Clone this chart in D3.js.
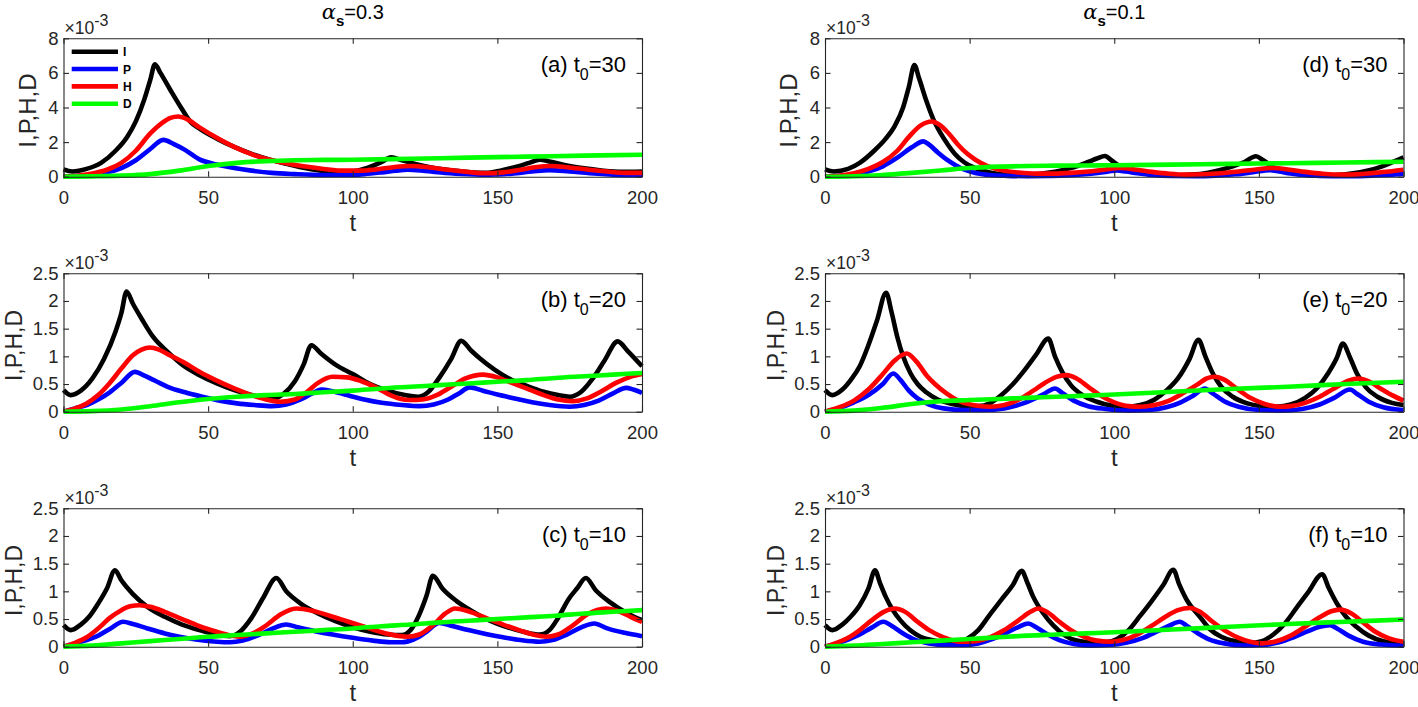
<!DOCTYPE html>
<html><head><meta charset="utf-8">
<script src="https://cdn.jsdelivr.net/npm/d3@7"></script>
<style>
body{margin:0;background:#fff}
text{font-family:"Liberation Sans",Arial,Helvetica,sans-serif}
</style>
</head><body>
<svg id="chart" width="1418" height="707"></svg>
<script>
// ---------------- data ----------------
const xTicks = [0, 50, 100, 150, 200];
const xTickLabels = ["0", "50", "100", "150", "200"];
const yTicksTop = [0, 2, 4, 6, 8];
const yTickLabelsTop = ["0", "2", "4", "6", "8"];
const yTicksLow = [0, 0.5, 1, 1.5, 2, 2.5];
const yTickLabelsLow = ["0", "0.5", "1", "1.5", "2", "2.5"];
const seriesNames = ["I", "P", "H", "D"];
const panelLetters = ["a", "b", "c", "d", "e", "f"];
const t0Values = ["30", "20", "10", "30", "20", "10"];
const alphaValues = ["0.3", "0.1"];
const exponentLabel = "-3";

// values in units of 1e-3, as [t, value]
const I_a = [[0,0.42],[3,0.3],[8,0.45],[13,0.8],[18,1.5],[22,2.3],[25,3.2],[28,4.5],[30,5.6],[31.6,6.5],[33.5,6.0],[37,5.0],[41,3.9],[44,3.15],[47,2.78],[53,2.2],[59,1.72],[65,1.32],[71,1.0],[77,0.75],[83,0.52],[89,0.35],[95,0.25],[100,0.3],[105,0.5],[110,0.85],[113.3,1.12],[117,0.95],[122,0.72],[128,0.5],[135,0.35],[141,0.25],[146,0.22],[151,0.35],[156,0.55],[161,0.8],[164.6,0.98],[168,0.88],[174,0.65],[180,0.48],[186,0.36],[193,0.28],[200,0.3]];
const P_a = [[0,0],[5,0.05],[10,0.12],[15,0.25],[20,0.5],[25,0.95],[30,1.6],[34.5,2.13],[38,1.9],[42,1.55],[47,1.0],[53,0.7],[59,0.5],[65,0.35],[72,0.22],[80,0.15],[90,0.1],[97,0.1],[104,0.15],[110,0.25],[115,0.35],[119,0.4],[125,0.33],[132,0.22],[140,0.15],[147,0.12],[155,0.18],[162,0.3],[168,0.38],[175,0.3],[182,0.2],[190,0.12],[200,0.08]];
const H_a = [[0,0],[5,0.06],[10,0.18],[15,0.4],[20,0.8],[25,1.5],[30,2.5],[34,3.1],[37,3.4],[39.6,3.48],[43,3.3],[47,2.85],[53,2.25],[59,1.72],[65,1.3],[71,1.0],[77,0.78],[83,0.6],[90,0.45],[97,0.35],[103,0.35],[108,0.42],[114,0.55],[120,0.62],[126,0.55],[133,0.4],[140,0.27],[146,0.2],[152,0.25],[158,0.4],[163,0.55],[168.5,0.62],[174,0.55],[181,0.42],[188,0.3],[195,0.22],[200,0.22]];
const D_a = [[0,0],[10,0.02],[20,0.06],[30,0.15],[40,0.35],[50,0.62],[60,0.8],[70,0.9],[80,0.95],[90,0.97],[100,0.98],[120,1.04],[140,1.1],[160,1.16],[180,1.22],[200,1.27]];

const I_b = [[0,0.39],[2.5,0.3],[6,0.38],[10,0.6],[14,0.95],[18,1.45],[20,1.78],[21.8,2.17],[24,1.95],[27,1.68],[31,1.35],[36,1.08],[41,0.85],[47,0.66],[53,0.51],[59,0.39],[65,0.3],[70,0.25],[73,0.24],[76,0.32],[80,0.55],[83,0.85],[85.7,1.2],[89,1.05],[94,0.85],[100,0.68],[106,0.5],[112,0.38],[118,0.3],[122.5,0.27],[126,0.35],[130,0.62],[134,0.95],[137.5,1.28],[141,1.1],[144,0.96],[149,0.76],[154,0.6],[160,0.47],[166,0.36],[171,0.3],[175,0.27],[179,0.36],[183,0.6],[187,0.92],[191.6,1.27],[195,1.1],[200,0.82]];
const P_b = [[0,0],[4,0.06],[8,0.12],[12,0.22],[16,0.35],[20,0.52],[24.7,0.72],[28,0.65],[32,0.55],[36,0.45],[42,0.35],[48,0.27],[54,0.2],[60,0.15],[66,0.12],[72,0.1],[77,0.13],[82,0.22],[86,0.33],[89,0.4],[93,0.37],[98,0.3],[104,0.22],[110,0.16],[117,0.12],[123,0.1],[128,0.13],[133,0.22],[137,0.34],[140.4,0.44],[145,0.38],[150,0.31],[156,0.24],[162,0.17],[168,0.12],[175,0.09],[180,0.12],[185,0.2],[190,0.33],[194.5,0.43],[197,0.4],[200,0.34]];
const H_b = [[0,0],[4,0.06],[8,0.15],[12,0.3],[16,0.52],[20,0.78],[24,1.02],[27,1.12],[29.9,1.16],[33,1.12],[36,1.04],[42,0.88],[47,0.72],[53,0.56],[59,0.42],[65,0.3],[70,0.22],[75,0.18],[80,0.22],[84,0.35],[88,0.52],[93,0.63],[98,0.62],[103,0.55],[108,0.44],[113,0.3],[116,0.24],[120,0.21],[124,0.22],[129,0.3],[134,0.45],[139,0.6],[145,0.67],[150,0.62],[155,0.52],[160,0.42],[166,0.3],[171,0.22],[176,0.19],[181,0.24],[186,0.37],[191,0.52],[196,0.63],[200,0.68]];
const D_b = [[0,0],[10,0.01],[20,0.04],[30,0.1],[40,0.17],[50,0.23],[60,0.27],[70,0.3],[80,0.32],[90,0.35],[100,0.38],[110,0.42],[120,0.45],[130,0.48],[140,0.51],[150,0.54],[160,0.57],[170,0.61],[180,0.64],[190,0.67],[200,0.7]];

const I_c = [[0,0.39],[2.5,0.3],[6,0.4],[9,0.55],[12,0.78],[15,1.05],[17.8,1.38],[20,1.2],[24,0.95],[29,0.72],[35,0.54],[41,0.4],[47,0.3],[52,0.23],[57.5,0.19],[61,0.27],[65,0.52],[69,0.88],[73.6,1.24],[77,1.0],[82,0.78],[88,0.6],[94,0.46],[100,0.35],[106,0.27],[112,0.22],[117,0.21],[120,0.3],[123,0.58],[125.5,0.92],[127.7,1.28],[131,1.05],[136,0.82],[141,0.65],[147,0.48],[153,0.36],[159,0.27],[164.6,0.22],[168,0.3],[171,0.52],[174.5,0.85],[177.5,1.05],[180.6,1.24],[184,1.02],[189,0.8],[195,0.6],[200,0.48]];
const P_c = [[0,0],[4,0.06],[8,0.12],[12,0.2],[16,0.32],[20.6,0.45],[24,0.41],[29,0.33],[35,0.24],[41,0.17],[47,0.12],[53,0.09],[57.5,0.08],[62,0.11],[67,0.2],[72,0.32],[77,0.4],[81,0.35],[87,0.28],[93,0.22],[100,0.16],[107,0.11],[113,0.08],[117,0.08],[121,0.13],[125,0.25],[130,0.43],[134,0.38],[140,0.3],[146,0.23],[152,0.17],[158,0.12],[164.6,0.09],[169,0.12],[174,0.22],[179,0.35],[183.5,0.42],[188,0.33],[194,0.25],[200,0.19]];
const H_c = [[0,0],[4,0.07],[8,0.17],[12,0.33],[16,0.52],[20,0.66],[23,0.73],[26.4,0.75],[30,0.72],[35,0.63],[41,0.5],[47,0.37],[53,0.27],[58,0.2],[61,0.18],[65,0.23],[70,0.38],[75,0.58],[80.5,0.69],[86,0.65],[92,0.56],[98,0.46],[104,0.36],[110,0.26],[115,0.2],[119,0.18],[123,0.22],[128,0.4],[132,0.6],[135.4,0.69],[140,0.64],[146,0.52],[152,0.4],[158,0.29],[163,0.21],[167,0.18],[171,0.22],[176,0.38],[181,0.58],[187.5,0.69],[192,0.64],[196,0.54],[200,0.45]];
const D_c = [[0,0],[10,0.02],[20,0.06],[30,0.1],[40,0.14],[50,0.18],[60,0.21],[70,0.24],[80,0.27],[90,0.3],[100,0.33],[110,0.37],[120,0.4],[130,0.44],[140,0.47],[150,0.5],[160,0.53],[170,0.56],[180,0.6],[190,0.63],[200,0.66]];

const I_d = [[0,0.42],[3,0.3],[8,0.45],[12,0.8],[17,1.5],[21,2.2],[24,2.9],[27,4.0],[29,5.2],[30.9,6.45],[32.5,5.7],[35,4.4],[37.5,3.3],[40,2.5],[42.5,1.85],[45,1.3],[48,0.85],[52,0.5],[57,0.25],[62,0.12],[67,0.08],[72,0.12],[77,0.22],[82,0.38],[87,0.6],[91,0.85],[94,1.05],[96.8,1.2],[99,0.95],[102,0.6],[106,0.33],[111,0.17],[117,0.1],[122,0.08],[127,0.12],[132,0.22],[137,0.4],[141,0.6],[145,0.85],[149,1.18],[151.5,0.95],[155,0.55],[159,0.3],[164,0.15],[170,0.08],[175,0.08],[180,0.14],[185,0.26],[190,0.45],[194,0.68],[197,0.9],[200,1.12]];
const P_d = [[0,0],[5,0.05],[10,0.14],[15,0.3],[20,0.6],[25,1.1],[30,1.7],[34,2.04],[36,1.85],[39,1.4],[42,1.0],[45,0.68],[48,0.42],[52,0.22],[57,0.1],[63,0.05],[70,0.03],[78,0.04],[85,0.08],[92,0.17],[98,0.3],[101,0.36],[104,0.3],[108,0.2],[113,0.1],[120,0.04],[128,0.03],[135,0.06],[142,0.14],[148,0.26],[153.8,0.38],[157,0.3],[161,0.18],[167,0.08],[175,0.03],[182,0.03],[190,0.07],[196,0.12],[200,0.16]];
const H_d = [[0,0],[5,0.06],[10,0.2],[15,0.45],[20,0.85],[25,1.5],[29,2.3],[33,2.95],[36.9,3.19],[40,2.95],[43,2.45],[46,1.85],[49,1.35],[52,0.98],[56,0.62],[61,0.38],[67,0.24],[73,0.18],[79,0.18],[85,0.22],[91,0.3],[97,0.42],[102,0.5],[107,0.42],[113,0.28],[119,0.17],[125,0.12],[131,0.14],[137,0.2],[143,0.3],[149,0.42],[155,0.5],[160,0.42],[166,0.28],[172,0.17],[179,0.12],[185,0.15],[190,0.22],[195,0.3],[200,0.4]];
const D_d = [[0,0],[10,0.03],[20,0.1],[30,0.22],[40,0.36],[50,0.5],[60,0.58],[70,0.62],[80,0.64],[90,0.65],[100,0.66],[120,0.7],[140,0.74],[160,0.78],[180,0.82],[200,0.86]];

const I_e = [[0,0.39],[2.5,0.3],[6,0.4],[9,0.58],[12,0.82],[15,1.2],[18,1.65],[21.1,2.15],[23,1.8],[25,1.35],[27,1.0],[29.5,0.7],[32,0.5],[35,0.35],[39,0.22],[44,0.14],[49,0.1],[53,0.1],[57,0.15],[61,0.3],[65,0.5],[69,0.75],[73,1.03],[77.2,1.32],[79.5,1.0],[82,0.72],[85,0.48],[89,0.3],[94,0.18],[99,0.11],[104,0.09],[109,0.12],[114,0.22],[118,0.38],[122,0.6],[126,0.95],[129.1,1.3],[131.5,1.0],[134,0.7],[137,0.45],[141,0.27],[146,0.15],[151,0.1],[156,0.09],[161,0.13],[166,0.25],[170,0.42],[174,0.7],[177,0.98],[179,1.23],[181.5,0.98],[184,0.68],[187,0.44],[191,0.27],[196,0.16],[200,0.12]];
const P_e = [[0,0],[5,0.07],[10,0.17],[15,0.3],[20,0.5],[23.6,0.69],[26,0.58],[29,0.38],[32,0.24],[36,0.13],[41,0.06],[48,0.03],[55,0.03],[62,0.06],[68,0.14],[73,0.25],[76,0.33],[79.5,0.42],[82,0.34],[86,0.2],[91,0.1],[97,0.05],[105,0.02],[112,0.03],[118,0.08],[123,0.17],[127,0.28],[131.4,0.42],[134,0.33],[138,0.19],[143,0.09],[150,0.03],[158,0.02],[165,0.05],[171,0.13],[176,0.25],[181.5,0.4],[184,0.32],[188,0.18],[193,0.08],[200,0.03]];
const H_e = [[0,0],[5,0.08],[10,0.2],[15,0.4],[20,0.68],[24,0.92],[28.2,1.05],[31.7,0.9],[35.2,0.65],[38,0.5],[42,0.33],[46,0.2],[51,0.12],[57,0.09],[62,0.12],[67,0.22],[72,0.38],[76,0.52],[80,0.63],[83.5,0.66],[87,0.6],[91,0.45],[95,0.3],[100,0.17],[105,0.1],[109,0.09],[114,0.12],[119,0.2],[124,0.34],[129,0.5],[132,0.6],[134.8,0.63],[138,0.58],[142,0.43],[147,0.25],[152,0.14],[157,0.09],[161,0.1],[166,0.16],[171,0.27],[176,0.42],[181,0.56],[184.4,0.6],[188,0.55],[192,0.42],[196,0.3],[200,0.2]];
const D_e = [[0,0],[10,0.02],[20,0.07],[30,0.14],[40,0.19],[50,0.21],[60,0.23],[70,0.25],[80,0.27],[90,0.29],[100,0.31],[120,0.36],[140,0.41],[160,0.45],[180,0.5],[200,0.54]];

const I_f = [[0,0.39],[2.5,0.3],[6,0.4],[9,0.55],[12,0.75],[15,1.05],[17.3,1.38],[19,1.15],[21,0.9],[23.5,0.66],[26,0.48],[29.4,0.3],[33,0.18],[37,0.12],[41,0.09],[45,0.09],[49,0.14],[53,0.3],[57,0.58],[61,0.85],[65,1.12],[68,1.37],[70,1.15],[72,0.9],[75.5,0.6],[79,0.38],[83,0.2],[87,0.11],[92,0.08],[97,0.08],[101,0.14],[105,0.3],[109,0.56],[113,0.83],[117,1.12],[120.4,1.39],[122.5,1.12],[125,0.85],[129.6,0.54],[133,0.32],[137,0.18],[142,0.1],[147,0.07],[151,0.1],[155,0.22],[159,0.42],[163,0.7],[167,0.98],[171.9,1.31],[174,1.08],[177,0.78],[180,0.55],[183.7,0.36],[188,0.2],[193,0.1],[200,0.06]];
const P_f = [[0,0],[4,0.06],[8,0.13],[12,0.22],[16,0.34],[20.2,0.45],[23,0.38],[27,0.24],[31,0.13],[36,0.06],[42,0.03],[48,0.03],[53,0.06],[58,0.14],[63,0.26],[67,0.36],[70.3,0.42],[73,0.35],[77,0.22],[81,0.12],[86,0.05],[92,0.02],[98,0.03],[104,0.07],[110,0.16],[115,0.28],[119,0.38],[122.7,0.45],[125,0.38],[129,0.24],[133,0.13],[138,0.06],[145,0.02],[151,0.03],[157,0.08],[162,0.17],[167,0.28],[171,0.36],[174.6,0.39],[177,0.33],[181,0.2],[186,0.09],[192,0.04],[200,0.02]];
const H_f = [[0,0],[4,0.07],[8,0.16],[12,0.3],[16,0.47],[20,0.62],[24.2,0.69],[28,0.62],[32,0.45],[36,0.3],[41,0.17],[46.7,0.09],[52,0.1],[57,0.17],[62,0.3],[67,0.48],[71,0.63],[73.7,0.69],[77,0.62],[81,0.45],[85,0.3],[90,0.17],[94,0.11],[98.5,0.09],[103,0.12],[108,0.22],[113,0.38],[118,0.55],[122,0.66],[126.2,0.7],[130,0.62],[134,0.45],[138,0.3],[143,0.16],[147,0.09],[151,0.06],[156,0.1],[161,0.2],[166,0.36],[171,0.53],[175,0.64],[178,0.67],[182,0.6],[186,0.44],[190,0.28],[195,0.15],[200,0.09]];
const D_f = [[0,0],[10,0.02],[20,0.05],[30,0.08],[40,0.11],[50,0.14],[60,0.17],[70,0.2],[80,0.22],[90,0.24],[100,0.26],[120,0.31],[140,0.36],[160,0.41],[180,0.45],[200,0.49]];

const panelSeries = [
  [I_a, P_a, H_a, D_a],
  [I_b, P_b, H_b, D_b],
  [I_c, P_c, H_c, D_c],
  [I_d, P_d, H_d, D_d],
  [I_e, P_e, H_e, D_e],
  [I_f, P_f, H_f, D_f]
];

// ---------------- style / layout ----------------
const colors = ["#000000", "#0000ff", "#ff0000", "#00ff00"];
const axisColor = "#262626";
const colLeft = [63.5, 825];
const colWidth = 578.5;
const rowTop = [38.3, 273.3, 508.3];
const rowHeight = 138.4;

const svg = d3.select("#chart");

panelSeries.forEach((series, i) => {
  const col = Math.floor(i / 3), row = i % 3;
  const L = colLeft[col], T = rowTop[row], W = colWidth, Hh = rowHeight;
  const yMax = row === 0 ? 8 : 2.5;
  const yTicks = row === 0 ? yTicksTop : yTicksLow;
  const yLabels = row === 0 ? yTickLabelsTop : yTickLabelsLow;
  const x = d3.scaleLinear().domain([0, 200]).range([0, W]);
  const y = d3.scaleLinear().domain([0, yMax]).range([Hh, 0]);
  const g = svg.append("g").attr("transform", `translate(${L},${T})`);

  // data lines
  const line = d3.line().x(d => x(d[0])).y(d => y(d[1])).curve(d3.curveMonotoneX);
  series.forEach((s, k) => {
    g.append("path").datum(s).attr("d", line)
      .attr("fill", "none").attr("stroke", colors[k])
      .attr("stroke-width", 4.6).attr("stroke-linejoin", "round");
  });

  // axes (box with inward ticks on all sides)
  const tl = 5.5;
  const xb = d3.axisBottom(x).tickValues(xTicks).tickFormat((d, j) => xTickLabels[j]).tickSizeInner(-tl).tickSizeOuter(0);
  const xt = d3.axisTop(x).tickValues(xTicks).tickFormat("").tickSizeInner(-tl).tickSizeOuter(0);
  const yl = d3.axisLeft(y).tickValues(yTicks).tickFormat((d, j) => yLabels[j]).tickSizeInner(-tl).tickSizeOuter(0);
  const yr = d3.axisRight(y).tickValues(yTicks).tickFormat("").tickSizeInner(-tl).tickSizeOuter(0);
  const gxb = g.append("g").attr("transform", `translate(0,${Hh})`).call(xb);
  const gxt = g.append("g").call(xt);
  const gyl = g.append("g").call(yl);
  const gyr = g.append("g").attr("transform", `translate(${W},0)`).call(yr);
  [gxb, gxt, gyl, gyr].forEach(a => {
    a.selectAll("path.domain").attr("stroke", axisColor).attr("stroke-width", 1.1);
    a.selectAll(".tick line").attr("stroke", axisColor).attr("stroke-width", 1.1);
    a.selectAll(".tick text").attr("fill", axisColor).style("font-size", "18.5px")
      .style("font-family", '"Liberation Sans", Arial, sans-serif');
  });
  gxb.selectAll(".tick text").attr("dy", "0.71em").attr("y", 14.5);
  gyl.selectAll(".tick text").attr("x", -5);

  // exponent label
  const ex = g.append("text").attr("x", 1).attr("y", -4.5).attr("fill", axisColor).style("font-size", "17.5px");
  ex.append("tspan").text("\u00d710");
  ex.append("tspan").attr("dy", -7.5).style("font-size", "16px").text(exponentLabel);

  // axis labels
  g.append("text").attr("x", W / 2).attr("y", Hh + 54.5).attr("text-anchor", "middle")
    .attr("fill", axisColor).style("font-size", "24px").text("t");
  const ylOff = row === 0 ? -28 : -41.5;
  g.append("text").attr("transform", `translate(${ylOff},${Hh / 2 + 3}) rotate(-90)`)
    .attr("text-anchor", "middle").attr("fill", axisColor).style("font-size", row === 0 ? "24px" : "23px")
    .text(seriesNames.join(","));

  // panel label
  const pl = g.append("text").attr("x", W - 16).attr("y", 33.5).attr("text-anchor", "end")
    .attr("fill", "#000").style("font-size", "22px");
  pl.append("tspan").text(`(${panelLetters[i]}) t`);
  pl.append("tspan").attr("dy", 8).style("font-size", "16px").text("0");
  pl.append("tspan").attr("dy", -8).text("=" + t0Values[i]);

  // legend (first panel only)
  if (i === 0) {
    seriesNames.forEach((nm, k) => {
      const ly = 13.4 + k * 17.35;
      g.append("line").attr("x1", 8.2).attr("x2", 54.5).attr("y1", ly).attr("y2", ly)
        .attr("stroke", colors[k]).attr("stroke-width", 4.6);
      g.append("text").attr("x", 59.5).attr("y", ly + 4.5).attr("fill", "#000")
        .style("font-size", "12px").style("font-weight", "bold").text(nm);
    });
  }

  // column title
  if (row === 0) {
    const tt = g.append("text").attr("x", W / 2).attr("y", -19.5).attr("text-anchor", "middle")
      .attr("fill", "#000").style("font-size", "20px");
    tt.append("tspan").style("font-style", "italic").style("font-family", '"DejaVu Serif", serif').style("font-size", "21px").text("\u03b1");
    tt.append("tspan").attr("dy", 7).style("font-size", "15px").style("font-weight", "bold").text("s");
    tt.append("tspan").attr("dy", -7).text("=" + alphaValues[col]);
  }
});
</script>
</body></html>
